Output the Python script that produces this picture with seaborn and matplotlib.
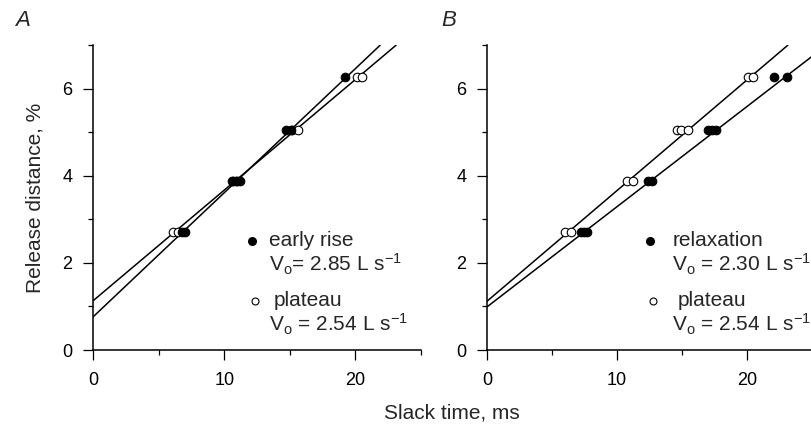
import numpy as np
import pandas as pd
import matplotlib
matplotlib.use("Agg")
import matplotlib.pyplot as plt
import seaborn as sns

# panel A: early rise vs plateau
a_rise_t = [6.8, 7.0, 10.6, 10.9, 11.2, 14.7, 15.1, 19.2]
a_rise_d = [2.72, 2.72, 3.88, 3.88, 3.88, 5.06, 5.06, 6.27]
a_plat_t = [6.1, 6.45, 10.7, 11.0, 15.2, 15.65, 20.1, 20.5]
a_plat_d = [2.72, 2.72, 3.88, 3.88, 5.06, 5.06, 6.27, 6.27]

# panel B: relaxation vs plateau
b_relax_t = [7.2, 7.5, 7.7, 12.4, 12.7, 17.0, 17.3, 17.6, 22.05, 23.1]
b_relax_d = [2.72, 2.72, 2.72, 3.87, 3.87, 5.04, 5.04, 5.04, 6.26, 6.26]
b_plat_t = [6.0, 6.45, 10.8, 11.2, 14.6, 14.9, 15.5, 20.05, 20.5]
b_plat_d = [2.72, 2.72, 3.87, 3.87, 5.04, 5.04, 5.04, 6.26, 6.26]

# fitted lines: V0 in L/s (slope in %/ms = V0/10) and intercepts in %
a_v0 = [2.85, 2.54]
a_icept = [0.76, 1.13]
b_v0 = [2.30, 2.54]
b_icept = [0.99, 1.12]

a_names = ["early rise", "plateau"]
b_names = ["relaxation", "plateau"]

sns.set_style("ticks")
plt.rcParams['font.family'] = ['Liberation Sans', 'DejaVu Sans']
plt.rcParams['mathtext.fontset'] = 'custom'
plt.rcParams['mathtext.rm'] = 'Liberation Sans'
plt.rcParams['mathtext.it'] = 'Liberation Sans:italic'
plt.rcParams['mathtext.default'] = 'regular'

fig = plt.figure(figsize=(8.11, 4.40), dpi=100)
axA = fig.add_axes([0.1147, 0.2045, 0.4044, 0.693])
axB = fig.add_axes([0.6005, 0.2045, 0.4007, 0.693])


def vtext(v, sp):
    return "V$_{o}$" + sp + "= %.2f L s$^{-1}$" % v


def panel(ax, filled_t, filled_d, open_t, open_d, v0, icept, names, sp, tx):
    df_f = pd.DataFrame({"t": filled_t, "d": filled_d})
    df_o = pd.DataFrame({"t": open_t, "d": open_d})
    for v, b in zip(v0, icept):
        ax.axline((0, b), slope=v / 10, color="black", lw=1.1, zorder=1)
    sns.scatterplot(data=df_o, x="t", y="d", ax=ax, color="white",
                    edgecolor="black", linewidth=0.8, s=38, zorder=3)
    sns.scatterplot(data=df_f, x="t", y="d", ax=ax, color="black",
                    edgecolor="black", linewidth=0.8, s=38, zorder=4)
    ax.set_xlim(0, 25)
    ax.set_ylim(0, 7)
    ax.set_xticks([0, 10, 20])
    ax.set_xticks([5, 15, 25], minor=True)
    ax.set_yticks([0, 2, 4, 6])
    ax.set_yticks([1, 3, 5, 7], minor=True)
    ax.set_xlabel("")
    ax.set_ylabel("")
    ax.tick_params(which="major", length=7, width=0.9, labelsize=13,
                   color="black", labelcolor="black")
    ax.tick_params(which="minor", length=3.5, width=0.9, color="black")
    ax.tick_params(axis="x", which="major", pad=9)
    ax.tick_params(axis="y", which="major", pad=8)
    for s in ["left", "bottom"]:
        ax.spines[s].set_linewidth(1.1)
        ax.spines[s].set_color("black")
    sns.despine(ax=ax)

    # legend-like annotations
    bx, tx1, tx2 = tx
    ax.plot([bx], [2.5], "o", color="black", ms=5.5, clip_on=False)
    ax.text(tx1, 2.38, names[0], fontsize=15, va="baseline")
    ax.text(tx1, 1.80, vtext(v0[0], sp[0]), fontsize=15, va="baseline")
    ax.plot([bx + 0.2], [1.13], "o", mfc="white", mec="black", mew=0.8, ms=5,
            clip_on=False)
    ax.text(tx2, 1.0, names[1], fontsize=15, va="baseline")
    ax.text(tx1, 0.43, vtext(v0[1], sp[1]), fontsize=15, va="baseline")


panel(axA, a_rise_t, a_rise_d, a_plat_t, a_plat_d, a_v0, a_icept, a_names,
      ["", " "], (12.15, 13.45, 13.75))
panel(axB, b_relax_t, b_relax_d, b_plat_t, b_plat_d, b_v0, b_icept, b_names,
      [" ", " "], (12.55, 14.25, 14.65))

fig.text(35 / 811, 1 - 198 / 440, "Release distance, %", rotation=90,
         ha="center", va="center", fontsize=15)
fig.text(452 / 811, 1 - 413 / 440, "Slack time, ms", ha="center",
         va="center", fontsize=15)
fig.text(15 / 811, 1 - 20 / 440, "A", style="italic", fontsize=16, va="center")
fig.text(441 / 811, 1 - 20 / 440, "B", style="italic", fontsize=16, va="center")

fig.savefig("out.png", dpi=100)
